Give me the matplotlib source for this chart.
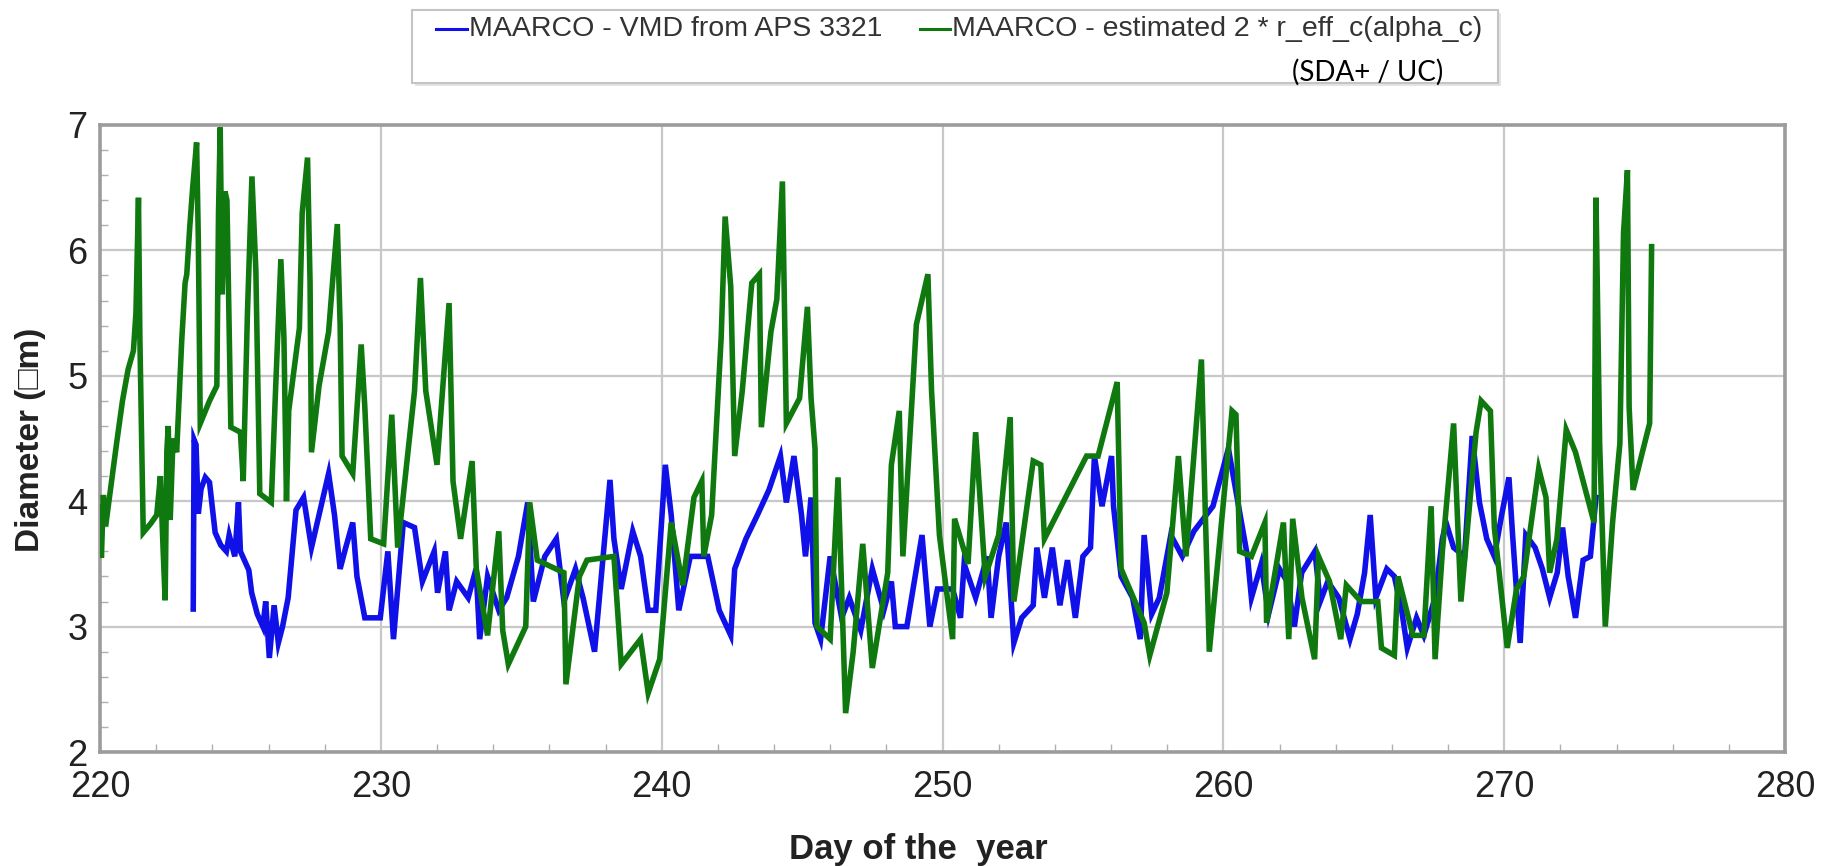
import matplotlib
matplotlib.use("Agg")
import matplotlib.pyplot as plt
from matplotlib.patches import Rectangle
from matplotlib.lines import Line2D
from matplotlib.ticker import MultipleLocator

# ---------------- data ----------------
vmd_day = [223.32, 223.35, 223.42, 223.5, 223.6, 223.75, 223.9, 224.0, 224.1, 224.3,
           224.5, 224.6, 224.8, 224.93, 225.0, 225.3, 225.4, 225.6, 225.8, 225.9,
           226.03, 226.2, 226.35, 226.5, 226.7, 226.98, 227.25, 227.53, 227.8, 228.14,
           228.35, 228.55, 228.75, 229.0, 229.15, 229.43, 229.98, 230.25, 230.45, 230.8,
           231.2, 231.48, 231.9, 232.02, 232.3, 232.43, 232.7, 233.11, 233.39, 233.52,
           233.8, 234.2, 234.48, 234.9, 235.23, 235.43, 235.84, 236.25, 236.52, 236.93,
           237.2, 237.61, 238.16, 238.3, 238.56, 238.97, 239.25, 239.52, 239.79, 240.13,
           240.34, 240.61, 241.02, 241.43, 241.64, 242.05, 242.46, 242.6, 243.0, 243.41,
           243.82, 244.23, 244.44, 244.71, 244.98, 245.12, 245.32, 245.46, 245.66, 246.0,
           246.41, 246.68, 247.09, 247.5, 247.91, 248.18, 248.32, 248.73, 249.27, 249.55,
           249.82, 250.36, 250.64, 250.77, 251.18, 251.59, 251.73, 252.0, 252.27, 252.54,
           252.82, 253.23, 253.36, 253.63, 253.91, 254.18, 254.45, 254.73, 255.0, 255.27,
           255.41, 255.68, 256.02, 256.09, 256.36, 256.77, 257.04, 257.18, 257.45, 257.72,
           258.13, 258.54, 258.95, 259.63, 260.18, 260.86, 261.0, 261.35, 261.61, 262.0,
           262.27, 262.53, 262.79, 263.26, 263.45, 263.72, 264.11, 264.51, 264.77, 265.03,
           265.23, 265.43, 265.82, 266.09, 266.35, 266.55, 266.88, 267.14, 267.54, 267.8,
           267.93, 268.2, 268.59, 268.86, 269.12, 269.38, 269.65, 269.91, 270.17, 270.3,
           270.57, 270.77, 271.1, 271.36, 271.62, 271.89, 272.08, 272.28, 272.54, 272.81,
           273.07, 273.27]
vmd_val = [3.14, 4.49, 4.45, 3.9, 4.1, 4.19, 4.15, 3.95, 3.75, 3.65,
           3.6, 3.73, 3.56, 3.99, 3.6, 3.45, 3.27, 3.1, 3.0, 3.2,
           2.75, 3.17, 2.87, 3.0, 3.23, 3.93, 4.03, 3.63, 3.89, 4.22,
           3.89, 3.46, 3.63, 3.83, 3.4, 3.07, 3.07, 3.6, 2.9, 3.83,
           3.79, 3.36, 3.6, 3.27, 3.6, 3.13, 3.36, 3.23, 3.46, 2.9,
           3.4, 3.13, 3.23, 3.56, 3.99, 3.2, 3.56, 3.7, 3.2, 3.46,
           3.23, 2.8, 4.17, 3.7, 3.3, 3.76, 3.56, 3.13, 3.13, 4.29,
           3.89, 3.13, 3.56, 3.56, 3.56, 3.13, 2.93, 3.46, 3.7, 3.89,
           4.09, 4.36, 3.99, 4.36, 3.89, 3.56, 4.03, 3.03, 2.9, 3.56,
           3.07, 3.23, 2.97, 3.46, 3.13, 3.36, 3.0, 3.0, 3.73, 3.0,
           3.3, 3.3, 3.07, 3.5, 3.23, 3.56, 3.07, 3.56, 3.83, 2.87,
           3.07, 3.17, 3.63, 3.23, 3.63, 3.17, 3.53, 3.07, 3.56, 3.63,
           4.36, 3.96, 4.36, 3.96, 3.4, 3.23, 2.9, 3.73, 3.1, 3.23,
           3.73, 3.56, 3.76, 3.96, 4.42, 3.56, 3.23, 3.5, 3.1, 3.46,
           3.36, 3.0, 3.43, 3.6, 3.2, 3.36, 3.23, 2.9, 3.1, 3.43,
           3.89, 3.23, 3.46, 3.4, 3.13, 2.83, 3.07, 2.93, 3.23, 3.7,
           3.83, 3.63, 3.56, 4.52, 3.99, 3.7, 3.56, 3.89, 4.19, 3.73,
           2.87, 3.73, 3.63, 3.46, 3.23, 3.43, 3.79, 3.4, 3.07, 3.53,
           3.56, 4.03]

reff_day = [220.0, 220.05, 220.12, 220.2, 220.36, 220.59, 220.8, 221.0, 221.19, 221.28,
            221.37, 221.42, 221.54, 221.8, 222.02, 222.15, 222.25, 222.32, 222.38, 222.43,
            222.5, 222.6, 222.73, 222.91, 223.03, 223.09, 223.2, 223.3, 223.44, 223.5,
            223.57, 223.9, 224.16, 224.22, 224.28, 224.35, 224.45, 224.52, 224.66, 225.0,
            225.1, 225.25, 225.41, 225.55, 225.69, 226.1, 226.25, 226.44, 226.55, 226.64,
            226.72, 227.1, 227.2, 227.39, 227.48, 227.53, 227.8, 228.14, 228.3, 228.45,
            228.55, 228.62, 229.0, 229.3, 229.43, 229.64, 230.1, 230.39, 230.6, 231.2,
            231.41, 231.6, 232.0, 232.43, 232.57, 232.84, 233.25, 233.4, 233.8, 234.2,
            234.34, 234.54, 235.16, 235.3, 235.57, 236.52, 236.59, 237.07, 237.34, 238.3,
            238.56, 239.25, 239.52, 239.93, 240.34, 240.75, 241.15, 241.43, 241.5, 241.78,
            242.12, 242.26, 242.46, 242.6, 242.87, 243.21, 243.48, 243.55, 243.89, 244.1,
            244.3, 244.44, 244.91, 245.19, 245.32, 245.46, 245.53, 246.0, 246.28, 246.55,
            246.82, 247.16, 247.5, 248.05, 248.18, 248.46, 248.59, 249.07, 249.48, 249.61,
            249.89, 250.36, 250.43, 250.91, 251.18, 251.52, 252.0, 252.41, 252.54, 253.23,
            253.5, 253.63, 255.13, 255.54, 256.22, 256.36, 257.18, 257.38, 257.99, 258.4,
            258.67, 259.22, 259.36, 259.5, 260.31, 260.45, 260.58, 261.0, 261.48, 261.54,
            262.14, 262.33, 262.47, 262.8, 263.25, 263.39, 263.78, 264.18, 264.38, 264.9,
            265.5, 265.63, 266.09, 266.22, 266.75, 267.14, 267.4, 267.54, 267.8, 268.2,
            268.46, 269.0, 269.18, 269.51, 269.65, 270.11, 270.44, 270.7, 271.23, 271.49,
            271.62, 271.88, 272.21, 272.54, 273.2, 273.27, 273.4, 273.6, 273.86, 274.12,
            274.25, 274.39, 274.45, 274.59, 274.92, 275.18, 275.25]
reff_val = [3.95, 3.55, 4.05, 3.8, 4.07, 4.46, 4.8, 5.05, 5.2, 5.5,
            6.42, 5.3, 3.75, 3.82, 3.89, 4.2, 3.6, 3.21, 4.4, 4.6,
            3.85, 4.5, 4.39, 5.28, 5.74, 5.81, 6.2, 6.5, 6.86, 6.1,
            4.62, 4.8, 4.92, 6.3, 6.98, 5.65, 6.47, 6.4, 4.59, 4.55,
            4.16, 5.5, 6.59, 5.84, 4.06, 3.99, 4.88, 5.93, 5.3, 4.0,
            4.72, 5.38, 6.3, 6.74, 5.74, 4.39, 4.92, 5.35, 5.8, 6.21,
            5.41, 4.36, 4.22, 5.25, 4.75, 3.7, 3.66, 4.69, 3.63, 4.88,
            5.78, 4.88, 4.29, 5.58, 4.16, 3.7, 4.32, 3.46, 2.93, 3.76,
            2.97, 2.7, 3.0, 3.99, 3.53, 3.43, 2.54, 3.4, 3.53, 3.56,
            2.7, 2.9, 2.47, 2.74, 3.83, 3.33, 4.03, 4.16, 3.56, 3.89,
            5.31, 6.27, 5.71, 4.36, 4.88, 5.74, 5.81, 4.59, 5.35, 5.61,
            6.55, 4.62, 4.82, 5.55, 4.82, 4.42, 3.0, 2.9, 4.19, 2.31,
            2.8, 3.66, 2.67, 3.43, 4.29, 4.72, 3.56, 5.41, 5.81, 4.88,
            3.73, 2.9, 3.86, 3.5, 4.55, 3.4, 3.73, 4.67, 3.2, 4.32,
            4.29, 3.7, 4.36, 4.36, 4.95, 3.46, 3.03, 2.77, 3.27, 4.36,
            3.56, 5.13, 3.89, 2.8, 4.72, 4.69, 3.6, 3.56, 3.83, 3.03,
            3.83, 2.9, 3.86, 3.23, 2.74, 3.56, 3.36, 2.9, 3.33, 3.2,
            3.2, 2.83, 2.77, 3.4, 2.93, 2.93, 3.96, 2.74, 3.6, 4.62,
            3.2, 4.55, 4.8, 4.72, 3.79, 2.83, 3.3, 3.4, 4.26, 4.03,
            3.43, 3.7, 4.57, 4.39, 3.83, 6.42, 4.46, 3.0, 3.83, 4.46,
            6.14, 6.64, 4.75, 4.09, 4.39, 4.62, 6.03]

x_ticks = [220, 230, 240, 250, 260, 270, 280]
y_ticks = [2, 3, 4, 5, 6, 7]
label_vmd = "MAARCO - VMD from APS 3321"
label_reff = "MAARCO - estimated 2 * r_eff_c(alpha_c)"
label_reff2 = "(SDA+ / UC)"
x_label = "Day of the  year"
y_label = "Diameter (\u25a1m)"

# ---------------- figure ----------------
W, H = 1831, 866
def fx(px):
    return px / W
def fy(py):
    return 1 - py / H

plt.rcParams['font.family'] = ['Liberation Sans', 'DejaVu Sans']
fig = plt.figure(figsize=(W / 100, H / 100), dpi=100)
ax = fig.add_axes([fx(100), fy(752), fx(1785) - fx(100), fy(125) - fy(752)])

BLUE = '#1010e8'
GREEN = '#0f780f'
ax.plot(vmd_day, vmd_val, color=BLUE, lw=4.0, solid_joinstyle='miter', zorder=3)
ax.plot(reff_day, reff_val, color=GREEN, lw=4.0, solid_joinstyle='miter', zorder=4)

ax.set_xlim(220, 280)
ax.set_ylim(2, 7)
ax.set_xticks(x_ticks)
ax.set_yticks(y_ticks)
ax.xaxis.set_minor_locator(MultipleLocator(2))
ax.yaxis.set_minor_locator(MultipleLocator(0.2))
ax.tick_params(which='major', length=0, labelsize=26, labelcolor='#222222')
ax.tick_params(axis='x', which='major', pad=13)
ax.tick_params(axis='y', which='major', pad=9)
ax.tick_params(which='minor', direction='in', length=6, width=1, color='#b0b0b0')
ax.grid(which='major', color='#c8c8c8', lw=1.6, zorder=0)
ax.set_axisbelow(True)
for s in ax.spines.values():
    s.set_color('#9c9c9c')
    s.set_linewidth(2.6)

fig.text(fx(31), fy(440), y_label, rotation=90, ha='center', va='center',
         fontsize=24, fontweight='bold', color='#222222')
fig.text(fx(918), fy(849), x_label, ha='center', va='center',
         fontsize=25, fontweight='bold', color='#222222')

# ---------------- legend box ----------------
shadow = Rectangle((fx(415), fy(86)), fx(1498) - fx(412), fy(10) - fy(83),
                   transform=fig.transFigure, fc='#e4e4e4', ec='none', zorder=1)
box = Rectangle((fx(412), fy(83)), fx(1498) - fx(412), fy(10) - fy(83),
                transform=fig.transFigure, fc='white', ec='#c4c4c4', lw=1.5, zorder=2)
fig.add_artist(shadow)
fig.add_artist(box)
fig.add_artist(Line2D([fx(436), fx(467)], [fy(29), fy(29)], color=BLUE, lw=2.2,
                      transform=fig.transFigure, zorder=3))
fig.add_artist(Line2D([fx(920), fx(950)], [fy(29), fy(29)], color=GREEN, lw=2.2,
                      transform=fig.transFigure, zorder=3))
fig.text(fx(469), fy(29), label_vmd, ha='left', va='center', fontsize=20.5,
         color='#333333', zorder=3)
fig.text(fx(952), fy(29), label_reff, ha='left', va='center', fontsize=20.5,
         color='#333333', zorder=3)
fig.text(fx(1292), fy(72), label_reff2, ha='left', va='center', fontsize=20,
         family=['Lato', 'DejaVu Sans'], color='black', zorder=3)

fig.savefig('out.png', dpi=100, facecolor='white')
